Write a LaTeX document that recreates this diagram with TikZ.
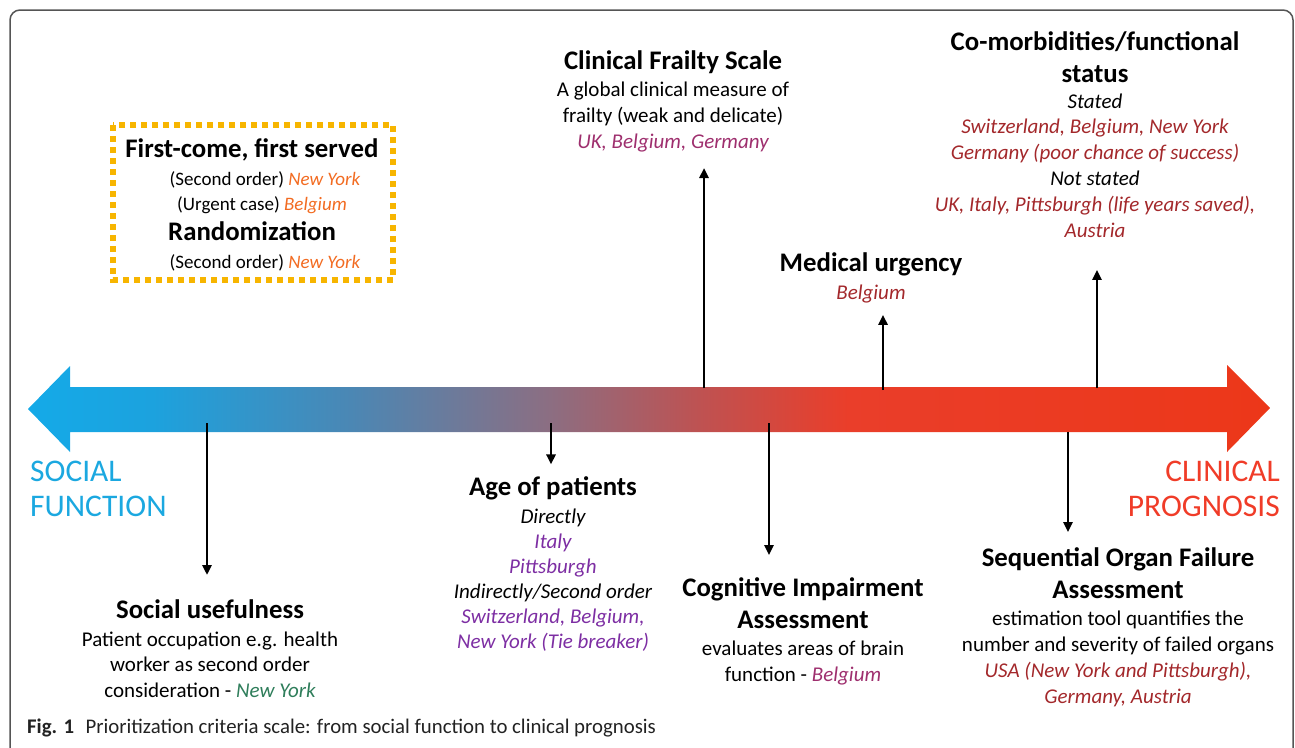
\documentclass[tikz,border=0pt]{standalone}
\usepackage{fontspec}
\setmainfont{Carlito}
\usetikzlibrary{arrows.meta,calc}
\definecolor{orng}{HTML}{F26B21}
\definecolor{ylw}{HTML}{F7B500}
\definecolor{mgt}{HTML}{9E2F6E}
\definecolor{mrn}{HTML}{A3282B}
\definecolor{prp}{HTML}{7D2EA3}
\definecolor{grn}{HTML}{2E7D5A}
\definecolor{cyt}{HTML}{1BA8E0}
\definecolor{rdt}{HTML}{F03C28}
\definecolor{frame}{HTML}{555555}
\definecolor{capt}{HTML}{222222}
\definecolor{sA}{RGB}{20,170,232}
\definecolor{sB}{RGB}{28,162,222}
\definecolor{sC}{RGB}{75,135,180}
\definecolor{sD}{RGB}{140,110,130}
\definecolor{sE}{RGB}{190,82,82}
\definecolor{sF}{RGB}{234,62,42}
\definecolor{sG}{RGB}{236,55,25}
\pgfdeclarehorizontalshading{scaleshade}{100bp}{color(0bp)=(sA); color(25bp)=(sA); color(30bp)=(sB); color(38bp)=(sC); color(46bp)=(sD); color(52bp)=(sE); color(58bp)=(sF); color(75bp)=(sG); color(100bp)=(sG)}
\newcommand{\mlines}[1]{\begin{tabular}[t]{@{}c@{}}#1\end{tabular}}
\tikzset{
  hd/.style={font=\fontsize{26.8}{32.5}\selectfont\bfseries, inner sep=0pt, anchor=base},
  bd/.style={font=\fontsize{21}{25.5}\selectfont, inner sep=0pt, anchor=base},
  bdw/.style={font=\fontsize{21}{26}\selectfont, inner sep=0pt, anchor=base},
  bxb/.style={font=\fontsize{19}{25}\selectfont, inner sep=0pt, anchor=base},
  big/.style={font=\fontsize{31.5}{35}\selectfont, inner sep=0pt},
  conn/.style={line width=2.5pt, black, -{Triangle[length=10pt,width=9pt]}},
}
\begin{document}
\begin{tikzpicture}[x=1pt,y=-1pt]
\useasboundingbox (0,0) rectangle (1295,747);
% frame
\draw[line width=1.5pt, frame, rounded corners=10pt] (10,760) -- (10,10) -- (1293,10) -- (1293,760);
% big double arrow
\path[shading=scaleshade] (28,409) -- (70,366) -- (70,387) -- (1227,387) -- (1227,365) -- (1270,408) -- (1227,452) -- (1227,432) -- (70,432) -- (70,452) -- cycle;
\node[big, anchor=base west, text=cyt] (soc) at (30,481) {SOCIAL};
\node[big, anchor=base west, text=cyt] (soc2) at (30,516) {FUNCTION};
\node[big, anchor=base east, text=rdt] (clin) at (1280,481) {CLINICAL};
\node[big, anchor=base east, text=rdt] (clin2) at (1280,516) {PROGNOSIS};
% dotted box
\draw[ylw, line width=6pt, dash pattern=on 6pt off 5pt] (113,125) rectangle (393,280);
\node[hd] (fc) at (252,157) {First-come, first served};
\node[bxb] (fc1) at (265,185) {(Second order) \textcolor{orng}{\itshape New York}};
\node[bxb] (fc2) at (262,210) {(Urgent case) \textcolor{orng}{\itshape Belgium}};
\node[hd] (rnd) at (252,240) {Randomization};
\node[bxb] (rnd1) at (265,268) {(Second order) \textcolor{orng}{\itshape New York}};
% Clinical Frailty Scale
\node[hd] (cfs) at (673,69) {Clinical Frailty Scale};
\node[bdw] (cfsb) at (673,96) {\mlines{A global clinical measure of\\frailty (weak and delicate)\\\textcolor{mgt}{\itshape UK, Belgium, Germany}}};
% Co-morbidities
\node[hd] (com) at (1095,50) {\mlines{Co-morbidities/functional\\status}};
\node[bdw, font=\fontsize{21}{25.8}\selectfont\itshape] (comb) at (1095,108) {\mlines{Stated\\\textcolor{mrn}{Switzerland, Belgium, New York}\\\textcolor{mrn}{Germany (poor chance of success)}\\Not stated\\\textcolor{mrn}{UK, Italy, Pittsburgh (life years saved),}\\\textcolor{mrn}{Austria}}};
% Medical urgency
\node[hd] (med) at (871,271) {Medical urgency};
\node[bd] (medb) at (871,299) {\textcolor{mrn}{\itshape Belgium}};
% Age of patients
\node[hd] (age) at (553,495) {Age of patients};
\node[bd, font=\fontsize{21}{25}\selectfont\itshape] (ageb) at (553,523) {\mlines{Directly\\\textcolor{prp}{Italy}\\\textcolor{prp}{Pittsburgh}\\Indirectly/Second order\\\textcolor{prp}{Switzerland, Belgium,}\\\textcolor{prp}{New York (Tie breaker)}}};
% Social usefulness
\node[hd] (use) at (210,618) {Social usefulness};
\node[bd] (useb) at (210,646) {\mlines{Patient occupation e.g. health\\worker as second order\\consideration - \textcolor{grn}{\itshape New York}}};
% Cognitive impairment
\node[hd] (cog) at (803,596) {\mlines{Cognitive Impairment\\Assessment}};
\node[bdw] (cogb) at (803,655) {\mlines{evaluates areas of brain\\function - \textcolor{mgt}{\itshape Belgium}}};
% SOFA
\node[hd] (sofa) at (1118,566) {\mlines{Sequential Organ Failure\\Assessment}};
\node[bdw] (sofab) at (1118,625) {\mlines{estimation tool quantifies the\\number and severity of failed organs\\\textcolor{mrn}{\itshape USA (New York and Pittsburgh),}\\\textcolor{mrn}{\itshape Germany, Austria}}};
% caption
\node[font=\fontsize{20.8}{22}\selectfont, text=capt, anchor=base west, inner sep=0pt] (cap) at (27,733) {\textbf{Fig. 1}\hspace{0.55em}Prioritization criteria scale: from social function to clinical prognosis};
% connectors
\coordinate (su0) at (207,423);
\coordinate (ag0) at (551,423);
\coordinate (cf0) at (704,388);
\coordinate (cg0) at (769,423);
\coordinate (md0) at (883,390);
\coordinate (cm0) at (1097,388);
\coordinate (sf0) at (1068,432);
\draw[conn, shorten >=24pt] (su0) -- (su0 |- use.north);
\draw[conn, shorten >=11.5pt] (ag0) -- (ag0 |- age.north);
\draw[conn, shorten >=18pt] (cg0) -- (cg0 |- cog.north);
\draw[conn, shorten >=11pt] (sf0) -- (sf0 |- sofa.north);
\draw[conn, shorten >=12pt] (cf0) -- (cf0 |- cfsb.south);
\draw[conn, shorten >=12pt] (md0) -- (md0 |- medb.south);
\draw[conn, shorten >=25pt] (cm0) -- (cm0 |- comb.south);
\end{tikzpicture}
\end{document}
